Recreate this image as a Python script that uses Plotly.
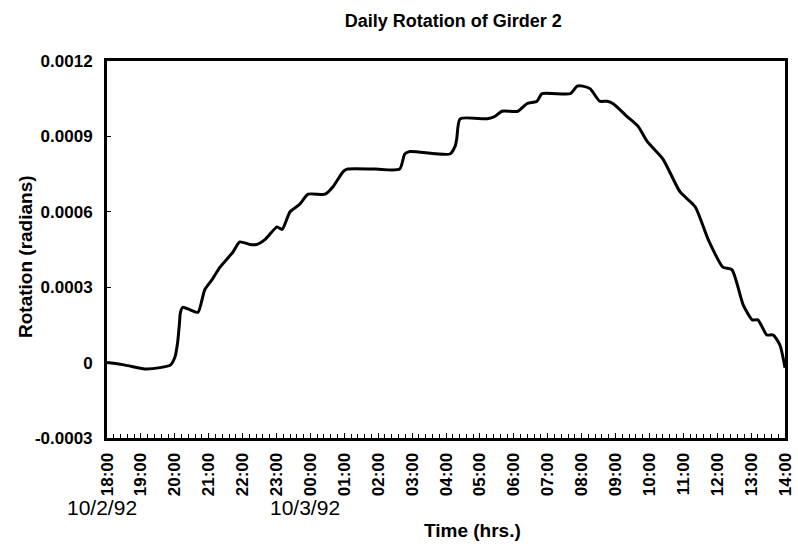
import plotly.graph_objects as go

times = [
    "1992-10-02 18:00", "1992-10-02 18:32", "1992-10-02 19:07", "1992-10-02 19:34",
    "1992-10-02 19:52", "1992-10-02 20:00", "1992-10-02 20:05", "1992-10-02 20:08",
    "1992-10-02 20:10", "1992-10-02 20:14", "1992-10-02 20:27", "1992-10-02 20:41",
    "1992-10-02 20:53", "1992-10-02 21:06", "1992-10-02 21:20", "1992-10-02 21:43",
    "1992-10-02 21:55", "1992-10-02 22:13", "1992-10-02 22:25", "1992-10-02 22:40",
    "1992-10-02 23:01", "1992-10-02 23:10", "1992-10-02 23:24", "1992-10-02 23:41",
    "1992-10-02 23:56", "1992-10-03 00:26", "1992-10-03 00:40", "1992-10-03 00:58",
    "1992-10-03 01:05", "1992-10-03 01:54", "1992-10-03 02:38", "1992-10-03 02:47",
    "1992-10-03 02:56", "1992-10-03 04:07", "1992-10-03 04:16", "1992-10-03 04:19",
    "1992-10-03 04:25", "1992-10-03 05:13", "1992-10-03 05:27", "1992-10-03 05:39",
    "1992-10-03 06:07", "1992-10-03 06:23", "1992-10-03 06:41", "1992-10-03 06:50",
    "1992-10-03 07:40", "1992-10-03 07:52", "1992-10-03 08:02", "1992-10-03 08:15",
    "1992-10-03 08:32", "1992-10-03 08:45", "1992-10-03 08:56", "1992-10-03 09:20",
    "1992-10-03 09:40", "1992-10-03 09:56", "1992-10-03 10:24", "1992-10-03 10:54",
    "1992-10-03 11:21", "1992-10-03 11:44", "1992-10-03 12:10", "1992-10-03 12:26",
    "1992-10-03 12:46", "1992-10-03 13:02", "1992-10-03 13:12", "1992-10-03 13:28",
    "1992-10-03 13:39", "1992-10-03 13:51", "1992-10-03 14:00",
]
rotation = [
    0.0, -0.00001, -0.000025, -0.00002,
    -0.00001, 0.00002, 0.00008, 0.00015,
    0.0002, 0.00022, 0.00021, 0.0002,
    0.00029, 0.00033, 0.00038, 0.00044,
    0.00048, 0.00047, 0.00047, 0.00049,
    0.00054, 0.00053, 0.0006, 0.00063,
    0.00067, 0.00067, 0.0007, 0.00076,
    0.00077, 0.00077, 0.00077, 0.00083,
    0.00084, 0.00083, 0.00086, 0.00089,
    0.00097, 0.00097, 0.00098, 0.001,
    0.001, 0.00103, 0.00104, 0.00107,
    0.00107, 0.0011, 0.0011, 0.00109,
    0.00104, 0.00104, 0.00103, 0.00098,
    0.00094, 0.00088, 0.00081, 0.00068,
    0.00062, 0.00049, 0.00038, 0.00037,
    0.00023, 0.00017, 0.00017, 0.00011,
    0.00011, 0.00007, -0.00002,
]
y_tickvals = [-0.0003, 0, 0.0003, 0.0006, 0.0009, 0.0012]
y_ticktext = ["-0.0003", "0", "0.0003", "0.0006", "0.0009", "0.0012"]
date_labels = ["10/2/92", "10/3/92"]
date_label_x = ["1992-10-02 18:00", "1992-10-03 00:00"]

FONT = "Liberation Sans"
TICKFONT = dict(family=FONT, size=17, color="black", weight="bold")

fig = go.Figure()
fig.add_trace(go.Scatter(
    x=times, y=rotation, mode="lines",
    line=dict(color="black", width=3, shape="spline", smoothing=0.6),
    showlegend=False, hoverinfo="skip",
))

fig.update_layout(
    width=798, height=546,
    margin=dict(l=107, r=13, t=61, b=108, autoexpand=False),
    paper_bgcolor="white", plot_bgcolor="white",
    title=dict(text="<b>Daily Rotation of Girder 2</b>", x=0.568, xref="container",
               xanchor="center", y=1 - 21 / 546, yref="container", yanchor="middle",
               font=dict(family=FONT, size=18, color="black")),
    font=dict(family=FONT, color="black"),
)

fig.update_xaxes(
    type="date", automargin=False,
    range=["1992-10-02 18:00", "1992-10-03 14:00"],
    tick0="1992-10-02 18:00", dtick=3600000, tickformat="%H:%M",
    tickangle=-90, ticks="inside", ticklen=5, tickwidth=1, tickcolor="black",
    ticklabelstandoff=5,
    tickfont=TICKFONT,
    minor=dict(ticks="inside", dtick=720000, tick0="1992-10-02 18:00", ticklen=4,
               tickcolor="black", tickwidth=1, showgrid=False),
    showline=True, linecolor="black", linewidth=3, mirror=True,
    showgrid=False, zeroline=False,
)
fig.update_yaxes(
    automargin=False,
    range=[-0.0003, 0.0012],
    tickvals=y_tickvals, ticktext=y_ticktext,
    ticks="inside", ticklen=4, tickcolor="black",
    ticklabelstandoff=8,
    tickfont=TICKFONT,
    showline=True, linecolor="black", linewidth=3, mirror=True,
    showgrid=False, zeroline=False,
)

for lbl, xv in zip(date_labels, date_label_x):
    fig.add_annotation(
        x=xv, xref="x", y=0, yref="paper", yanchor="middle", xanchor="center",
        yshift=-69, xshift=-5, text=lbl, showarrow=False,
        font=dict(family=FONT, size=21, color="black"),
    )

plot_w = 798 - 107 - 13
plot_h = 546 - 61 - 108
fig.add_annotation(
    x=(472 - 107) / plot_w, xref="paper", y=(438 - 530) / plot_h, yref="paper",
    text="<b>Time (hrs.)</b>", showarrow=False, xanchor="center", yanchor="middle",
    font=dict(family=FONT, size=19, color="black"),
)
fig.add_annotation(
    x=(25 - 107) / plot_w, xref="paper", y=(438 - 257) / plot_h, yref="paper",
    text="<b>Rotation (radians)</b>", showarrow=False, xanchor="center",
    yanchor="middle", textangle=-90,
    font=dict(family=FONT, size=19, color="black"),
)

fig.write_html(
    "out.html",
    config={"displayModeBar": False},
    post_script="document.body.style.margin='0';document.body.style.overflow='hidden';",
)
